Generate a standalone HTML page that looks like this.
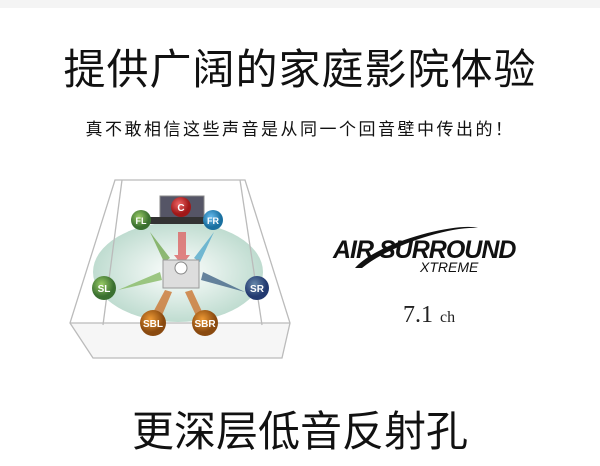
<!DOCTYPE html>
<html><head><meta charset="utf-8"><style>
body{margin:0;width:600px;height:466px;background:#fff;overflow:hidden;position:relative;font-family:"Liberation Sans","Noto Sans CJK SC",sans-serif;}
.t{position:absolute;left:0;width:600px;text-align:center;color:#111;white-space:nowrap;}
</style></head><body>
<div style="position:absolute;left:0;top:0;width:600px;height:8px;background:#f4f4f4"></div>
<div class="t" style="top:44px;font-size:42px;line-height:52px;letter-spacing:1px;">提供广阔的家庭影院体验</div>
<div class="t" style="top:119px;font-size:17px;line-height:22px;letter-spacing:2.5px;">真不敢相信这些声音是从同一个回音壁中传出的！</div>
<div class="t" style="top:406px;font-size:42px;line-height:52px;">更深层低音反射孔</div>
<svg style="position:absolute;left:0;top:0" width="600" height="466">
<defs>
<radialGradient id="el" cx="50%" cy="50%" r="50%"><stop offset="0" stop-color="#fff"/><stop offset="1" stop-color="#bfdcd0"/></radialGradient>
<radialGradient id="g" cx="40%" cy="35%"><stop offset="0" stop-color="#9c6"/><stop offset="1" stop-color="#3a7030"/></radialGradient>
<radialGradient id="r" cx="40%" cy="35%"><stop offset="0" stop-color="#e66"/><stop offset="1" stop-color="#a01818"/></radialGradient>
<radialGradient id="b" cx="40%" cy="35%"><stop offset="0" stop-color="#6be"/><stop offset="1" stop-color="#1a70a0"/></radialGradient>
<radialGradient id="n" cx="40%" cy="35%"><stop offset="0" stop-color="#68a"/><stop offset="1" stop-color="#233a70"/></radialGradient>
<radialGradient id="o" cx="40%" cy="35%"><stop offset="0" stop-color="#e93"/><stop offset="1" stop-color="#8a4a10"/></radialGradient>
</defs>
<polygon points="70,323 290,323 282,358 93,358" fill="#f6f6f6"/>
<ellipse cx="178" cy="272" rx="85" ry="50" fill="url(#el)"/>
<g fill="none" stroke="#bbb" stroke-width="1.3">
<polygon points="115,180 245,180 290,323 282,358 93,358 70,323"/>
<line x1="70" y1="323" x2="290" y2="323"/>
<line x1="122" y1="180" x2="103" y2="325"/>
<line x1="240" y1="180" x2="262" y2="325"/>
</g>
<rect x="160" y="196" width="44" height="22" fill="#556" stroke="#888"/>
<rect x="150" y="217" width="70" height="7" fill="#333"/>
<g opacity="0.8">
<polygon points="150,232 170,258 164,262" fill="#7a5"/>
<polygon points="214,232 194,258 200,262" fill="#5ac"/>
<polygon points="178,232 186,232 186,255 190,255 182,265 174,255 178,255" fill="#d66"/>
<polygon points="118,290 160,272 162,280" fill="#8b6"/>
<polygon points="245,292 203,272 201,280" fill="#468"/>
<polygon points="150,318 165,290 172,292 160,320" fill="#c73"/>
<polygon points="205,318 192,290 185,292 198,320" fill="#c73"/>
</g>
<rect x="163" y="260" width="36" height="28" fill="#ddd" stroke="#999"/>
<circle cx="181" cy="268" r="6" fill="#fff" stroke="#888"/>
<g font-family="Liberation Sans,sans-serif" font-weight="bold" fill="#fff" text-anchor="middle">
<circle cx="181" cy="207" r="10" fill="url(#r)"/><text x="181" y="211" font-size="10">C</text>
<circle cx="141" cy="220" r="10" fill="url(#g)"/><text x="141" y="224" font-size="9">FL</text>
<circle cx="213" cy="220" r="10" fill="url(#b)"/><text x="213" y="224" font-size="9">FR</text>
<circle cx="104" cy="288" r="12" fill="url(#g)"/><text x="104" y="292" font-size="10">SL</text>
<circle cx="257" cy="288" r="12" fill="url(#n)"/><text x="257" y="292" font-size="10">SR</text>
<circle cx="153" cy="323" r="13" fill="url(#o)"/><text x="153" y="327" font-size="10">SBL</text>
<circle cx="205" cy="323" r="13" fill="url(#o)"/><text x="205" y="327" font-size="10">SBR</text>
</g>
<path d="M355,268 C380,240 460,222 478,228 C450,226 390,245 362,268 Z" fill="#111"/>
<text x="333" y="258" font-family="Liberation Sans,sans-serif" font-style="italic" font-weight="bold" font-size="25" fill="#111" letter-spacing="-1">AIR SURROUND</text>
<text x="420" y="272" font-family="Liberation Sans,sans-serif" font-style="italic" font-size="14" fill="#111">XTREME</text>
<text x="403" y="322" font-family="Liberation Serif,serif" font-size="24" fill="#222">7.1</text>
<text x="440" y="322" font-family="Liberation Serif,serif" font-size="16" fill="#222">ch</text>
</svg>
</body></html>
